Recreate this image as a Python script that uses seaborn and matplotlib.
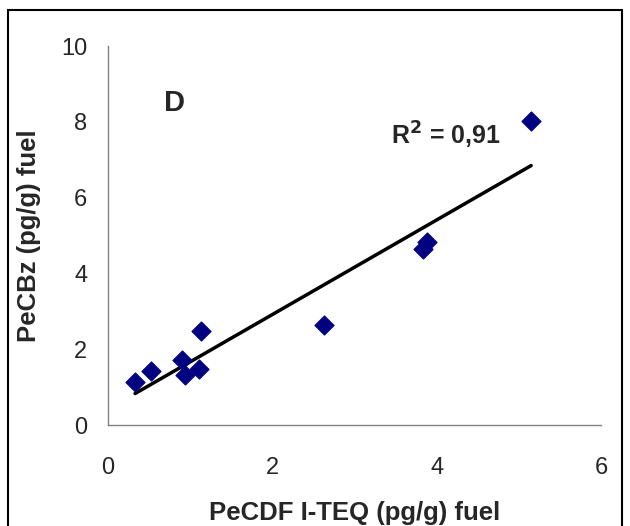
import numpy as np
import matplotlib
matplotlib.use('Agg')
import matplotlib.pyplot as plt
import seaborn as sns
from matplotlib.patches import Rectangle

# data
pecdf = [0.33, 0.52, 0.90, 0.94, 1.11, 1.13, 2.63, 3.83, 3.88, 5.15]
pecbz = [1.13, 1.42, 1.71, 1.32, 1.48, 2.48, 2.64, 4.64, 4.83, 8.02]
x_ticks = [0, 2, 4, 6]
y_ticks = [0, 2, 4, 6, 8, 10]

sns.set_style("white")
plt.rcParams['font.family'] = ['Liberation Sans', 'DejaVu Sans']

fig = plt.figure(figsize=(6.3, 5.26), dpi=100)
ax = fig.add_axes([0.1714, 0.192, 0.7826, 0.7205])

sns.scatterplot(x=pecdf, y=pecbz, marker='D', s=95, color='#000080',
                edgecolor='#000080', ax=ax, zorder=3)

# linear trendline
slope, intercept = np.polyfit(pecdf, pecbz, 1)
xs = np.array([min(pecdf), max(pecdf)])
ax.plot(xs, slope * xs + intercept, color='black', lw=2.5, zorder=2)

ax.set_xlim(0, 6)
ax.set_ylim(0, 10)
ax.set_xticks(x_ticks)
ax.set_yticks(y_ticks)
ax.tick_params(axis='both', labelsize=17, length=5, width=1, color='#808080',
               direction='out')
ax.tick_params(axis='y', pad=10)
ax.tick_params(axis='x', pad=18)
for s in ['top', 'right']:
    ax.spines[s].set_visible(False)
for s in ['left', 'bottom']:
    ax.spines[s].set_color('#808080')
    ax.spines[s].set_linewidth(1)

ax.set_xlabel('PeCDF I-TEQ (pg/g) fuel', fontsize=18.5, fontweight='bold', labelpad=16)
ax.set_ylabel('PeCBz (pg/g) fuel', fontsize=18.5, fontweight='bold', labelpad=14)

ax.text(0.68, 8.5, 'D', fontsize=21, fontweight='bold', va='center')
ax.text(3.45, 7.65, r'R$^\mathbf{2}$ = 0,91', fontsize=18, fontweight='bold', va='center')

fig.patches.append(Rectangle((8 / 630, -0.01), 614 / 630, 1 - 10 / 526 + 0.01,
                             transform=fig.transFigure, fill=False,
                             edgecolor='black', lw=1.5))

fig.savefig('out.png', dpi=100)
